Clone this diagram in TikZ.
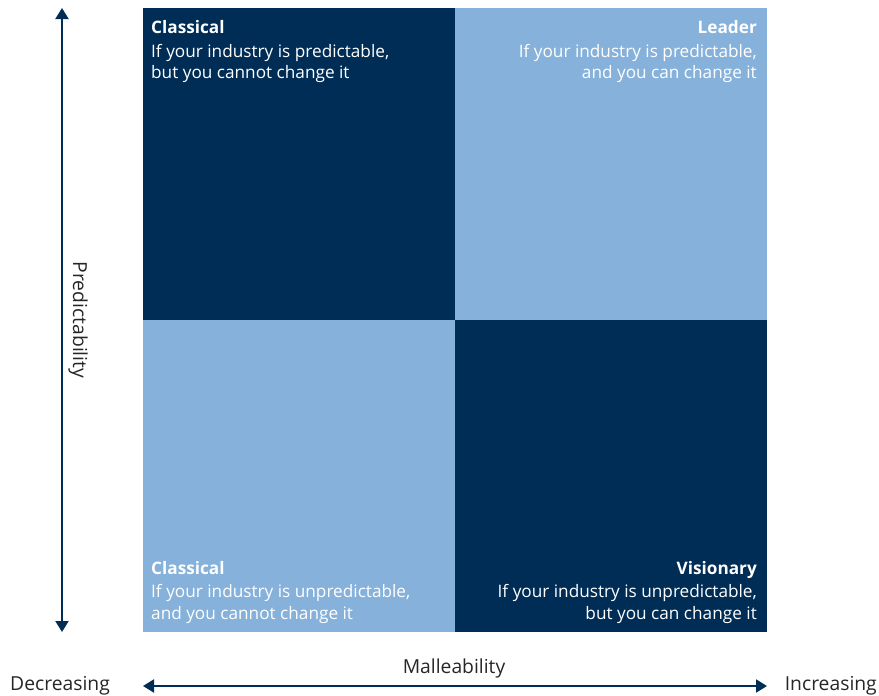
\documentclass[tikz,border=0pt]{standalone}
\usepackage{fontspec}
\setmainfont{Open Sans}
\usetikzlibrary{arrows.meta}
\definecolor{navy}{HTML}{002D56}
\definecolor{lightblue}{HTML}{85B1DA}
\begin{document}
\begin{tikzpicture}[x=1pt,y=-1pt,
  quad/.style={draw=none,inner sep=0pt,minimum width=312pt,minimum height=312pt,anchor=north west},
  lbl/.style={inner sep=0pt,text=white,font=\fontsize{17.2}{20}\selectfont},
  ttl/.style={lbl,font=\fontsize{17.2}{20}\selectfont\bfseries},
  axtxt/.style={inner sep=0pt,text=black!85,font=\fontsize{19.3}{22}\selectfont},
  axis/.style={draw=navy,line width=2pt,-{Triangle[length=11pt,width=13pt]}}]
\useasboundingbox (0,0) rectangle (879,696);
\node[quad,fill=navy] (q1) at (143,8) {};
\node[quad,fill=lightblue] (q2) at (455,8) {};
\node[quad,fill=lightblue] (q3) at (143,320) {};
\node[quad,fill=navy] (q4) at (455,320) {};
% top-left
\node[ttl,anchor=base west] (t1a) at (151,33) {Classical};
\node[lbl,anchor=base west] (t1b) at (151,57) {If your industry is predictable,};
\node[lbl,anchor=base west] (t1c) at (151,78) {but you cannot change it};
% top-right
\node[ttl,anchor=base east] (t2a) at (757,33) {Leader};
\node[lbl,anchor=base east] (t2b) at (757,57) {If your industry is predictable,};
\node[lbl,anchor=base east] (t2c) at (757,78) {and you can change it};
% bottom-left
\node[ttl,anchor=base west] (t3a) at (151,574) {Classical};
\node[lbl,anchor=base west] (t3b) at (151,597) {If your industry is unpredictable,};
\node[lbl,anchor=base west] (t3c) at (151,619) {and you cannot change it};
% bottom-right
\node[ttl,anchor=base east] (t4a) at (757,574) {Visionary};
\node[lbl,anchor=base east] (t4b) at (757,597) {If your industry is unpredictable,};
\node[lbl,anchor=base east] (t4c) at (757,619) {but you can change it};
% axes
\coordinate (vtop) at (62,8);
\coordinate (vbot) at (62,632);
\coordinate (vmid) at (62,320);
\draw[axis] (vmid) -- (vtop);
\draw[axis] (vmid) -- (vbot);
\coordinate (hl) at (143,686);
\coordinate (hr) at (767,686);
\coordinate (hmid) at (455,686);
\draw[axis] (hmid) -- (hl);
\draw[axis] (hmid) -- (hr);
\node[axtxt,rotate=-90,anchor=base] (pred) at (73,320) {Predictability};
\node[axtxt,anchor=base] (mall) at (454,673) {Malleability};
\node[axtxt,anchor=base west] (dec) at (10,690) {Decreasing};
\node[axtxt,anchor=base east] (inc) at (877,690) {Increasing};
\end{tikzpicture}
\end{document}
